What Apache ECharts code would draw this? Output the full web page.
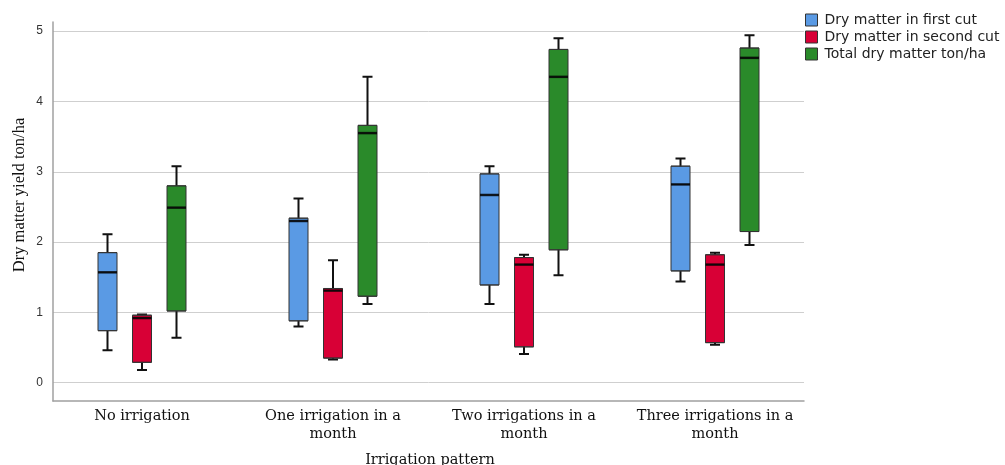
<!DOCTYPE html>
<html>
<head>
<meta charset="utf-8">
<script src="https://cdn.jsdelivr.net/npm/echarts@6/dist/echarts.min.js"></script>
<style>html,body{margin:0;padding:0;background:#fff;}#c{width:1005px;height:465px;}</style>
</head>
<body>
<div id="c"></div>
<script>
// ---- data ----
const categories = ['No irrigation', 'One irrigation in a\nmonth', 'Two irrigations in a\nmonth', 'Three irrigations in a\nmonth'];
const seriesNames = ['Dry matter in first cut', 'Dry matter in second cut', 'Total dry matter ton/ha'];
// each entry: [min, Q1, median, Q3, max]
const firstCut  = [[0.46,0.74,1.57,1.85,2.11],[0.80,0.88,2.30,2.34,2.62],[1.12,1.39,2.67,2.97,3.08],[1.44,1.59,2.82,3.08,3.19]];
const secondCut = [[0.18,0.29,0.92,0.96,0.97],[0.33,0.35,1.31,1.34,1.74],[0.41,0.51,1.68,1.78,1.82],[0.54,0.57,1.68,1.82,1.85]];
const totalDM   = [[0.64,1.02,2.49,2.80,3.08],[1.12,1.23,3.55,3.66,4.35],[1.53,1.89,4.35,4.74,4.90],[1.96,2.15,4.62,4.76,4.94]];
const yTicks = [0, 1, 2, 3, 4, 5];
const xTitle = 'Irrigation pattern';
const yTitle = 'Dry matter yield ton/ha';

// ---- styling / layout ----
const colors = ['#5a9ae4', '#d80036', '#2a8a2a'];
const datasets = [firstCut, secondCut, totalDM];
const yMin = -0.26, yMax = 5.13;
const gTop = 22, gBottom = 64;
const bandW = 191, firstCenter = 142, shift = 34.5;
const baseLeft = firstCenter - bandW / 2;

const grids = [{left: 53, right: 201, top: gTop, bottom: gBottom}];
const xAxes = [{
  type: 'category', gridIndex: 0, data: categories,
  axisLine: {show: true, onZero: false, lineStyle: {color: '#a0a0a0', width: 1.5}},
  axisTick: {show: false}, axisLabel: {show: false}, splitLine: {show: false}
}];
const yAxes = [{
  type: 'value', gridIndex: 0, min: yMin, max: yMax,
  axisLine: {show: true, lineStyle: {color: '#a0a0a0', width: 1.5}},
  axisTick: {show: false},
  axisLabel: {
    color: '#333', fontFamily: 'Liberation Sans', fontSize: 12, margin: 10,
    showMinLabel: false, showMaxLabel: false,
    formatter: v => (yTicks.indexOf(Math.round(v * 1000) / 1000) >= 0 ? String(Math.round(v)) : '')
  },
  splitLine: {show: true, showMinLine: false, showMaxLine: false, lineStyle: {color: '#cfcfcf', width: 1}}
}];
const series = [];

datasets.forEach((arr, i) => {
  const gi = i + 1;
  grids.push({left: baseLeft + (i - 1) * shift, width: bandW * 4, top: gTop, bottom: gBottom});
  const xa = xAxes.length;
  const showLabels = (i === 1);
  xAxes.push({
    type: 'category', gridIndex: gi, data: categories, show: showLabels,
    axisLine: {show: false, onZero: false}, axisTick: {show: false}, splitLine: {show: false},
    axisLabel: {show: showLabels, interval: 0, color: '#111', fontFamily: 'DejaVu Serif', fontSize: 14.5, lineHeight: 18, margin: 6}
  });
  xAxes.push({type: 'category', gridIndex: gi, data: categories, show: false, axisLine: {onZero: false}});
  const ya = yAxes.length;
  yAxes.push({type: 'value', gridIndex: gi, min: yMin, max: yMax, show: false, splitLine: {show: false}});

  // box (Q1..Q3) with median
  series.push({
    type: 'boxplot', name: seriesNames[i], xAxisIndex: xa + 1, yAxisIndex: ya,
    boxWidth: [19, 19], z: 3,
    data: arr.map(d => [d[1], d[1], d[2], d[3], d[3]]),
    itemStyle: {color: colors[i], borderColor: '#333', borderWidth: 1}
  });
  // whiskers (min..max) drawn behind the box
  series.push({
    type: 'boxplot', name: seriesNames[i], xAxisIndex: xa, yAxisIndex: ya,
    boxWidth: [10, 10], z: 2,
    data: arr.map(d => [d[0], d[2], d[2], d[2], d[4]]),
    itemStyle: {color: colors[i], borderColor: '#111', borderWidth: 2}
  });
  // median bar
  series.push({
    type: 'scatter', xAxisIndex: xa + 1, yAxisIndex: ya, z: 4,
    symbol: 'rect', symbolSize: [19, 2.5],
    data: arr.map((d, k) => [k, d[2]]),
    itemStyle: {color: '#000'}
  });
});

const chart = echarts.init(document.getElementById('c'), null, {renderer: 'canvas'});
chart.setOption({
  animation: false,
  backgroundColor: '#fff',
  grid: grids,
  xAxis: xAxes,
  yAxis: yAxes,
  legend: {
    data: seriesNames.map((n, i) => ({name: n, icon: 'rect', itemStyle: {color: colors[i], borderColor: '#333', borderWidth: 1}})),
    orient: 'vertical', left: 805, top: 13,
    itemWidth: 12, itemHeight: 12, itemGap: 3, padding: 0,
    textStyle: {fontFamily: 'DejaVu Sans', fontSize: 14, color: '#222', padding: [0, 0, 0, 2]}
  },
  graphic: [
    {type: 'text', x: 20, y: 195, rotation: Math.PI / 2,
     style: {text: yTitle, fontFamily: 'Liberation Serif', fontSize: 16.5, fill: '#111', align: 'center', verticalAlign: 'middle'}},
    {type: 'text', x: 430, y: 460,
     style: {text: xTitle, fontFamily: 'DejaVu Serif', fontSize: 14.5, fill: '#111', align: 'center', verticalAlign: 'middle'}}
  ],
  series: series
});
</script>
</body>
</html>
